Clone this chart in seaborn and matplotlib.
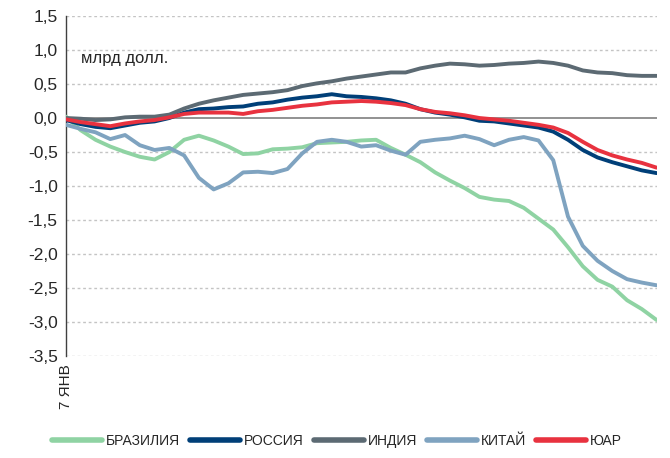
import numpy as np
import pandas as pd
import matplotlib
matplotlib.use("Agg")
import matplotlib.pyplot as plt
import seaborn as sns

# weekly points from 7 Jan, bln USD
brazil = [0.02, -0.18, -0.32, -0.42, -0.50, -0.57, -0.61, -0.50, -0.32, -0.26,
          -0.33, -0.42, -0.53, -0.52, -0.46, -0.45, -0.43, -0.37, -0.36, -0.35,
          -0.33, -0.32, -0.44, -0.54, -0.65, -0.80, -0.92, -1.03, -1.16, -1.20,
          -1.22, -1.32, -1.48, -1.64, -1.90, -2.18, -2.38, -2.48, -2.68, -2.81, -2.97]
russia = [-0.03, -0.09, -0.13, -0.15, -0.11, -0.07, -0.05, 0.00, 0.08, 0.13,
          0.14, 0.16, 0.17, 0.21, 0.23, 0.27, 0.30, 0.32, 0.35, 0.32,
          0.31, 0.29, 0.26, 0.21, 0.13, 0.08, 0.05, 0.01, -0.04, -0.05,
          -0.08, -0.11, -0.14, -0.20, -0.32, -0.47, -0.58, -0.65, -0.71, -0.77, -0.81]
india = [0.00, -0.01, -0.03, -0.02, 0.01, 0.02, 0.02, 0.05, 0.14, 0.21,
         0.26, 0.30, 0.34, 0.36, 0.38, 0.41, 0.47, 0.51, 0.54, 0.58,
         0.61, 0.64, 0.67, 0.67, 0.73, 0.77, 0.80, 0.79, 0.77, 0.78,
         0.80, 0.81, 0.83, 0.81, 0.77, 0.70, 0.67, 0.66, 0.63, 0.62, 0.62]
china = [-0.10, -0.16, -0.21, -0.31, -0.25, -0.40, -0.47, -0.44, -0.55, -0.88,
         -1.05, -0.96, -0.80, -0.79, -0.81, -0.75, -0.52, -0.35, -0.32, -0.35,
         -0.42, -0.40, -0.48, -0.54, -0.35, -0.32, -0.30, -0.26, -0.31, -0.40,
         -0.32, -0.28, -0.33, -0.62, -1.45, -1.88, -2.10, -2.25, -2.37, -2.42, -2.46]
sar = [-0.02, -0.06, -0.09, -0.12, -0.08, -0.05, -0.03, 0.01, 0.06, 0.08,
       0.08, 0.08, 0.06, 0.10, 0.12, 0.15, 0.18, 0.20, 0.23, 0.24,
       0.25, 0.24, 0.22, 0.19, 0.13, 0.09, 0.07, 0.04, 0.00, -0.02,
       -0.04, -0.07, -0.10, -0.14, -0.22, -0.35, -0.47, -0.55, -0.61, -0.66, -0.73]

names = ["БРАЗИЛИЯ", "РОССИЯ", "ИНДИЯ", "КИТАЙ", "ЮАР"]
colors = ["#8fd3a3", "#003f78", "#5c6a73", "#7fa3c0", "#e8323f"]
y_ticks = [1.5, 1.0, 0.5, 0.0, -0.5, -1.0, -1.5, -2.0, -2.5, -3.0, -3.5]

series = [brazil, russia, india, china, sar]
rows = []
for name, vals in zip(names, series):
    for i, v in enumerate(vals):
        rows.append({"week": i, "value": v, "country": name})
df = pd.DataFrame(rows)

sns.set_style("white")
plt.rcParams['font.family'] = ['Liberation Sans', 'DejaVu Sans']

fig = plt.figure(figsize=(6.7, 4.58), dpi=100)
ax = fig.add_axes([0.0985, 0.2227, 0.8815, 0.7423])

for yt in y_ticks:
    if yt == 0:
        ax.axhline(0, color="#7f7f7f", lw=1.2, zorder=1)
    else:
        ax.axhline(yt, color="#c4c4c4", lw=1.0, ls=(0, (2, 2)), zorder=1)

sns.lineplot(data=df, x="week", y="value", hue="country", hue_order=names,
             palette=colors, linewidth=2.8, ax=ax, legend=False, zorder=3)
for ln in ax.get_lines()[-5:]:
    ln.set_solid_joinstyle("round")
    ln.set_solid_capstyle("round")

ax.set_xlim(0, 40)
ax.set_ylim(-3.5, 1.5)
ax.set_yticks(y_ticks)
ax.set_yticklabels([f"{t:.1f}".replace(".", ",") for t in y_ticks], fontsize=12.5)
ax.set_xticks([0])
ax.set_xticklabels(["7 ЯНВ"], rotation=90, fontsize=11)
ax.tick_params(axis="y", direction="out", length=4, width=1, color="#404040", pad=2)
ax.tick_params(axis="x", length=0, pad=6)
ax.set_xlabel("")
ax.set_ylabel("")
for s in ["top", "right", "bottom"]:
    ax.spines[s].set_visible(False)
ax.spines["left"].set_color("#404040")
ax.spines["left"].set_linewidth(1.0)

ax.text(0.025, 0.875, "млрд долл.", transform=ax.transAxes, fontsize=12,
        ha="left", va="center")

handles = [plt.Line2D([], [], color=c, lw=4, solid_capstyle="round") for c in colors]
fig.legend(handles, names, loc="center", bbox_to_anchor=(0.503, 0.037), ncol=5,
           frameon=False, fontsize=10, handlelength=3.6, handletextpad=0.3,
           columnspacing=0.7)

fig.savefig("out.png", dpi=100)
